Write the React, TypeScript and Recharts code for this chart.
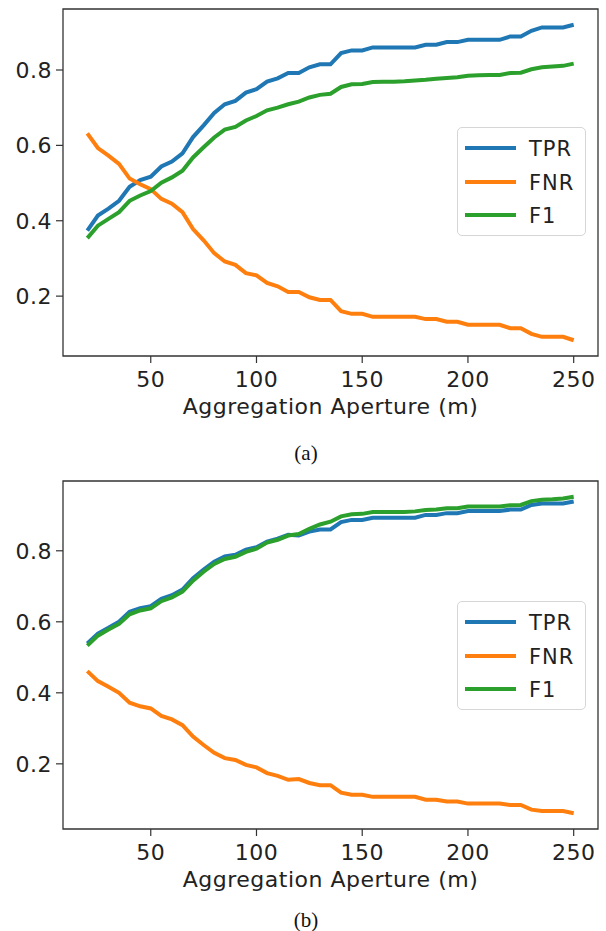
import { LineChart, Line, XAxis, YAxis, Legend, ReferenceArea } from "recharts";

// aggregation aperture (m)
const apertures = [
  20, 25, 30, 35, 40, 45, 50, 55, 60, 65, 70, 75, 80, 85, 90, 95, 100, 105, 110, 115, 120, 125, 130, 135,
  140, 145, 150, 155, 160, 165, 170, 175, 180, 185, 190, 195, 200, 205, 210, 215, 220, 225, 230, 235, 240,
  245, 250,
];

// panel (a)
const tprA = [
  0.374, 0.414, 0.432, 0.453, 0.49, 0.508, 0.517, 0.544, 0.557, 0.579, 0.622, 0.653, 0.686, 0.709, 0.718,
  0.74, 0.749, 0.769, 0.778, 0.792, 0.792, 0.807, 0.815, 0.815, 0.845, 0.852, 0.852, 0.86, 0.86, 0.86, 0.86,
  0.86, 0.867, 0.867, 0.874, 0.874, 0.88, 0.88, 0.88, 0.88, 0.889, 0.889, 0.904, 0.913, 0.913, 0.913, 0.92,
];
const fnrA = [
  0.632, 0.593, 0.573, 0.551, 0.512, 0.497, 0.484, 0.458, 0.445, 0.423, 0.378, 0.348, 0.314, 0.292, 0.283,
  0.261, 0.255, 0.235, 0.226, 0.211, 0.211, 0.197, 0.19, 0.19, 0.16, 0.153, 0.153, 0.145, 0.145, 0.145,
  0.145, 0.145, 0.139, 0.139, 0.132, 0.132, 0.124, 0.124, 0.124, 0.124, 0.115, 0.115, 0.1, 0.092, 0.092,
  0.092, 0.083,
];
const f1A = [
  0.354, 0.387, 0.405, 0.423, 0.453, 0.467, 0.479, 0.501, 0.515, 0.533, 0.568, 0.595, 0.621, 0.642, 0.649,
  0.666, 0.678, 0.693, 0.7, 0.709, 0.716, 0.727, 0.734, 0.737, 0.755, 0.762, 0.763, 0.768, 0.769, 0.769,
  0.77, 0.772, 0.774, 0.777, 0.779, 0.781, 0.785, 0.786, 0.787, 0.787, 0.792, 0.793, 0.802, 0.807, 0.809,
  0.811, 0.817,
];

// panel (b)
const tprB = [
  0.539, 0.567, 0.583, 0.6, 0.628, 0.638, 0.644, 0.665, 0.675, 0.691, 0.723, 0.747, 0.769, 0.784, 0.789,
  0.803, 0.81, 0.826, 0.834, 0.845, 0.843, 0.854, 0.86, 0.86, 0.881, 0.887, 0.887, 0.893, 0.893, 0.893,
  0.893, 0.893, 0.901, 0.901, 0.906, 0.906, 0.912, 0.912, 0.912, 0.912, 0.916, 0.916, 0.929, 0.933, 0.933,
  0.933, 0.939,
];
const fnrB = [
  0.461, 0.433, 0.417, 0.4, 0.372, 0.362, 0.356, 0.335, 0.325, 0.309, 0.277, 0.253, 0.231, 0.216, 0.211,
  0.197, 0.19, 0.174, 0.166, 0.155, 0.157, 0.146, 0.14, 0.14, 0.119, 0.113, 0.113, 0.107, 0.107, 0.107,
  0.107, 0.107, 0.099, 0.099, 0.094, 0.094, 0.088, 0.088, 0.088, 0.088, 0.084, 0.084, 0.071, 0.067, 0.067,
  0.067, 0.061,
];
const f1B = [
  0.533, 0.561, 0.578, 0.594, 0.621, 0.632, 0.638, 0.658, 0.669, 0.685, 0.716, 0.741, 0.763, 0.777, 0.783,
  0.797, 0.806, 0.823, 0.831, 0.843, 0.847, 0.862, 0.874, 0.882, 0.897, 0.903, 0.904, 0.909, 0.909, 0.909,
  0.909, 0.911, 0.915, 0.916, 0.92, 0.92, 0.925, 0.925, 0.925, 0.925, 0.928, 0.929, 0.94, 0.944, 0.945,
  0.947, 0.952,
];

const seriesNames = ["TPR", "FNR", "F1"];
const xTicks = [50, 100, 150, 200, 250];
const yTicks = [0.2, 0.4, 0.6, 0.8];

const FONT = "'DejaVu Sans', Verdana, sans-serif";
const INK = "#222";
const COLORS: any = { TPR: "#1f77b4", FNR: "#ff7f0e", F1: "#2ca02c" };

const tickStyle = { fontSize: 22, fill: INK, fontFamily: FONT, letterSpacing: 0.5 };

// matplotlib-like legend box, kept in plotting order
const LegendBox = (props: any) => {
  const items = [...(props.payload || [])].sort(
    (a: any, b: any) => seriesNames.indexOf(a.value) - seriesNames.indexOf(b.value)
  );
  return (
    <div
      style={{
        position: "relative",
        width: 129,
        height: 109,
        boxSizing: "border-box",
        border: "1px solid #d6d6d6",
        borderRadius: 5,
        background: "rgba(255,255,255,0.85)",
        fontFamily: FONT,
      }}
    >
      {items.map((it: any, i: number) => (
        <div key={it.value}>
          <div
            style={{
              position: "absolute",
              left: 7,
              top: 18 + i * 33.5,
              width: 51,
              height: 4,
              background: COLORS[it.value] || it.color,
            }}
          />
          <div
            style={{
              position: "absolute",
              left: 71,
              top: 8 + i * 33.5,
              fontSize: 21,
              letterSpacing: 1,
              lineHeight: "26px",
              color: INK,
            }}
          >
            {it.value}
          </div>
        </div>
      ))}
    </div>
  );
};

function Panel({ tpr, fnr, f1, height, legendTop }: any) {
  const rows = apertures.map((a, i) => ({ aperture: a, TPR: tpr[i], FNR: fnr[i], F1: f1[i] }));
  const all = [...tpr, ...fnr, ...f1];
  const lo = Math.min(...all);
  const hi = Math.max(...all);
  const pad = (hi - lo) * 0.05;
  const yDomain = [lo - pad, hi + pad];
  const xDomain = [20 - 11.5, 250 + 11.5];

  return (
    <LineChart width={606} height={height} data={rows} margin={{ top: 9, right: 8, bottom: 11, left: 0 }}>
      <XAxis
        dataKey="aperture"
        type="number"
        domain={xDomain}
        ticks={xTicks}
        allowDataOverflow
        axisLine={false}
        tickSize={7}
        tickMargin={8}
        tickLine={{ stroke: "#333", strokeWidth: 1.2 }}
        tick={tickStyle}
        height={58}
        label={{
          value: "Aggregation Aperture (m)",
          position: "insideBottom",
          offset: 0,
          ...tickStyle,
        }}
      />
      <YAxis
        type="number"
        domain={yDomain}
        ticks={yTicks}
        allowDataOverflow
        width={63}
        axisLine={false}
        tickSize={7}
        tickMargin={4}
        tickLine={{ stroke: "#333", strokeWidth: 1.2 }}
        tick={tickStyle}
        tickFormatter={(v: number) => v.toFixed(1)}
      />
      <Line type="linear" dataKey="TPR" name="TPR" stroke={COLORS.TPR} strokeWidth={4} dot={false} isAnimationActive={false} />
      <Line type="linear" dataKey="FNR" name="FNR" stroke={COLORS.FNR} strokeWidth={4} dot={false} isAnimationActive={false} />
      <Line type="linear" dataKey="F1" name="F1" stroke={COLORS.F1} strokeWidth={4} dot={false} isAnimationActive={false} />
      <ReferenceArea
        x1={xDomain[0]}
        x2={xDomain[1]}
        y1={yDomain[0]}
        y2={yDomain[1]}
        fill="none"
        fillOpacity={0}
        stroke="#333"
        strokeWidth={1.3}
        ifOverflow="visible"
      />
      <Legend
        layout="vertical"
        align="center"
        verticalAlign="middle"
        wrapperStyle={{ left: 457, top: legendTop, width: 129 }}
        content={LegendBox}
      />
    </LineChart>
  );
}

const captionStyle: any = {
  position: "absolute",
  left: 3,
  width: 606,
  textAlign: "center",
  fontFamily: "'Liberation Serif', 'Times New Roman', serif",
  fontSize: 21,
  lineHeight: "24px",
  color: "#111",
};

export default function App() {
  return (
    <div
      style={{
        position: "absolute",
        left: 0,
        top: 0,
        width: 606,
        height: 931,
        overflow: "hidden",
        background: "#fff",
      }}
    >
      <div style={{ position: "absolute", left: 0, top: 0 }}>
        <Panel tpr={tprA} fnr={fnrA} f1={f1A} height={425} legendTop={127} />
      </div>
      <div style={{ ...captionStyle, top: 441 }}>(a)</div>
      <div style={{ position: "absolute", left: 0, top: 472 }}>
        <Panel tpr={tprB} fnr={fnrB} f1={f1B} height={426} legendTop={129} />
      </div>
      <div style={{ ...captionStyle, top: 908 }}>(b)</div>
    </div>
  );
}
